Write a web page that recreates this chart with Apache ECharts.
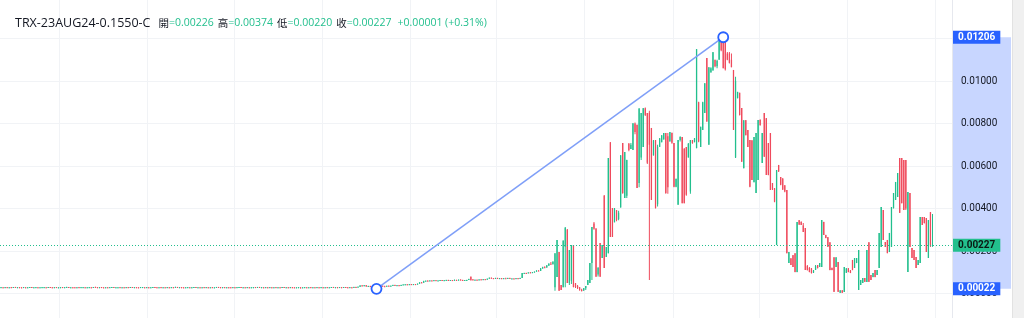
<!DOCTYPE html>
<html><head><meta charset="utf-8">
<script src="https://cdn.jsdelivr.net/npm/echarts/dist/echarts.min.js"></script>
<style>html,body{margin:0;padding:0;background:#fff;overflow:hidden;width:1024px;height:318px}
#c{position:absolute;left:0;top:-4px;width:1024px;height:340px}</style></head>
<body><div id="c"></div>
<script>
// ---------- data ----------
const symbolName = 'TRX-23AUG24-0.1550-C';
const ohlcLabels = ['開', '高', '低', '收'];
const changeText = '+0.00001 (+0.31%)';

// candles: [open, close, low, high]
const candlesA = [
[0.00029,0.00030,0.00028,0.00031],[0.00030,0.00029,0.00028,0.00030],[0.00029,0.00030,0.00029,0.00031],[0.00030,0.00028,0.00028,0.00031],[0.00028,0.00030,0.00028,0.00030],[0.00030,0.00029,0.00029,0.00031],[0.00029,0.00031,0.00029,0.00031],[0.00031,0.00029,0.00028,0.00031],[0.00029,0.00030,0.00028,0.00030],[0.00030,0.00029,0.00029,0.00030],
[0.00029,0.00028,0.00028,0.00030],[0.00028,0.00030,0.00028,0.00031],[0.00030,0.00029,0.00029,0.00030],[0.00029,0.00030,0.00029,0.00030],[0.00030,0.00031,0.00029,0.00031],[0.00031,0.00029,0.00029,0.00031],[0.00029,0.00029,0.00028,0.00030],[0.00029,0.00030,0.00029,0.00031],[0.00030,0.00028,0.00028,0.00030],[0.00028,0.00029,0.00028,0.00030],
[0.00029,0.00030,0.00028,0.00031],[0.00030,0.00030,0.00029,0.00031],[0.00030,0.00029,0.00028,0.00030],[0.00029,0.00031,0.00029,0.00031],[0.00031,0.00030,0.00029,0.00031],[0.00030,0.00029,0.00029,0.00030],[0.00029,0.00030,0.00028,0.00030],[0.00030,0.00028,0.00028,0.00031],[0.00028,0.00029,0.00028,0.00030],[0.00029,0.00030,0.00029,0.00030],
[0.00030,0.00029,0.00029,0.00031],[0.00029,0.00030,0.00028,0.00030],[0.00030,0.00031,0.00030,0.00032],[0.00031,0.00029,0.00029,0.00031],[0.00029,0.00030,0.00029,0.00030],[0.00030,0.00029,0.00028,0.00030],[0.00029,0.00028,0.00028,0.00030],[0.00028,0.00030,0.00028,0.00030],[0.00030,0.00029,0.00029,0.00031],[0.00029,0.00030,0.00029,0.00031],
[0.00030,0.00030,0.00029,0.00031],[0.00030,0.00028,0.00028,0.00030],[0.00028,0.00029,0.00027,0.00030],[0.00029,0.00030,0.00029,0.00031],[0.00030,0.00029,0.00029,0.00030],[0.00029,0.00031,0.00029,0.00031],[0.00031,0.00030,0.00029,0.00032],[0.00030,0.00029,0.00029,0.00030],[0.00029,0.00030,0.00028,0.00030],[0.00030,0.00029,0.00029,0.00031],
[0.00029,0.00028,0.00028,0.00030],[0.00028,0.00030,0.00028,0.00030],[0.00030,0.00029,0.00028,0.00030],[0.00029,0.00030,0.00029,0.00031],[0.00030,0.00031,0.00030,0.00031],[0.00031,0.00029,0.00029,0.00031],[0.00029,0.00029,0.00028,0.00030],[0.00029,0.00030,0.00029,0.00030],[0.00030,0.00028,0.00028,0.00031],[0.00028,0.00030,0.00028,0.00030],
[0.00030,0.00029,0.00029,0.00030],[0.00029,0.00030,0.00028,0.00031],[0.00030,0.00029,0.00029,0.00031],[0.00029,0.00031,0.00029,0.00031],[0.00031,0.00029,0.00028,0.00031],[0.00029,0.00030,0.00029,0.00030],[0.00030,0.00029,0.00028,0.00030],[0.00029,0.00028,0.00028,0.00030],[0.00028,0.00030,0.00028,0.00031],[0.00030,0.00030,0.00029,0.00031],
[0.00030,0.00029,0.00029,0.00030],[0.00029,0.00030,0.00029,0.00031],[0.00030,0.00028,0.00028,0.00030],[0.00028,0.00029,0.00028,0.00030],[0.00029,0.00031,0.00029,0.00031],[0.00031,0.00030,0.00029,0.00031],[0.00030,0.00029,0.00029,0.00030],[0.00029,0.00030,0.00028,0.00030],[0.00030,0.00029,0.00029,0.00031],[0.00029,0.00030,0.00029,0.00030],
[0.00030,0.00028,0.00028,0.00030],[0.00028,0.00030,0.00028,0.00031],[0.00030,0.00029,0.00029,0.00030],[0.00029,0.00030,0.00029,0.00031],[0.00030,0.00029,0.00028,0.00030],[0.00029,0.00031,0.00029,0.00032],[0.00031,0.00029,0.00029,0.00031],[0.00029,0.00030,0.00028,0.00030],[0.00030,0.00029,0.00029,0.00030],[0.00029,0.00028,0.00028,0.00030],
[0.00028,0.00029,0.00028,0.00030],[0.00029,0.00030,0.00029,0.00031],[0.00030,0.00029,0.00029,0.00030],[0.00029,0.00030,0.00028,0.00030],[0.00030,0.00031,0.00029,0.00031],[0.00031,0.00029,0.00029,0.00031],[0.00029,0.00030,0.00029,0.00030],[0.00030,0.00028,0.00028,0.00030],[0.00028,0.00030,0.00028,0.00030],[0.00030,0.00029,0.00029,0.00031],
[0.00029,0.00030,0.00029,0.00031],[0.00030,0.00029,0.00028,0.00030],[0.00029,0.00030,0.00029,0.00030],[0.00030,0.00028,0.00028,0.00031],[0.00028,0.00029,0.00028,0.00030],[0.00029,0.00031,0.00029,0.00031],[0.00031,0.00030,0.00029,0.00031],[0.00030,0.00029,0.00029,0.00030],[0.00029,0.00030,0.00028,0.00030],[0.00030,0.00029,0.00029,0.00031],
[0.00029,0.00030,0.00029,0.00030],[0.00030,0.00029,0.00028,0.00030],[0.00029,0.00028,0.00028,0.00030],[0.00028,0.00030,0.00028,0.00031],[0.00030,0.00029,0.00029,0.00030],[0.00029,0.00030,0.00029,0.00031],[0.00030,0.00031,0.00029,0.00031],[0.00031,0.00029,0.00029,0.00031],[0.00029,0.00030,0.00029,0.00030],[0.00030,0.00029,0.00028,0.00030],
[0.00029,0.00030,0.00029,0.00031],[0.00030,0.00028,0.00028,0.00030],[0.00028,0.00029,0.00028,0.00030],[0.00029,0.00030,0.00029,0.00030],[0.00030,0.00029,0.00029,0.00031],[0.00029,0.00031,0.00029,0.00031],[0.00031,0.00029,0.00028,0.00031],[0.00029,0.00030,0.00029,0.00030],[0.00030,0.00029,0.00029,0.00030],[0.00029,0.00030,0.00028,0.00031],
[0.00030,0.00029,0.00029,0.00030],[0.00029,0.00030,0.00029,0.00031],[0.00030,0.00028,0.00028,0.00030],[0.00028,0.00030,0.00028,0.00030],[0.00030,0.00029,0.00029,0.00031],[0.00029,0.00030,0.00029,0.00030],[0.00030,0.00029,0.00028,0.00030],[0.00029,0.00031,0.00029,0.00031],[0.00031,0.00029,0.00029,0.00031],[0.00029,0.00030,0.00029,0.00030],
[0.00030,0.00029,0.00028,0.00030],[0.00029,0.00030,0.00029,0.00031],[0.00030,0.00029,0.00029,0.00030],[0.00029,0.00028,0.00028,0.00030],[0.00028,0.00029,0.00028,0.00030],[0.00029,0.00030,0.00029,0.00030],[0.00029,0.00025,0.00023,0.00030],[0.00025,0.00029,0.00025,0.00030],[0.00029,0.00030,0.00029,0.00031],[0.00030,0.00029,0.00029,0.00030],
[0.00029,0.00030,0.00028,0.00030],[0.00030,0.00029,0.00029,0.00031],[0.00029,0.00030,0.00029,0.00030],[0.00030,0.00028,0.00028,0.00030],[0.00028,0.00030,0.00028,0.00031],[0.00030,0.00029,0.00029,0.00030],[0.00029,0.00030,0.00029,0.00031],[0.00030,0.00029,0.00028,0.00030],[0.00029,0.00030,0.00029,0.00030],[0.00030,0.00029,0.00029,0.00031],
[0.00029,0.00030,0.00029,0.00030],[0.00030,0.00031,0.00029,0.00031],[0.00031,0.00029,0.00029,0.00031],[0.00029,0.00030,0.00029,0.00030],[0.00030,0.00029,0.00028,0.00030],[0.00029,0.00030,0.00029,0.00031],[0.00030,0.00029,0.00029,0.00030],[0.00029,0.00031,0.00029,0.00031],[0.00031,0.00030,0.00029,0.00031],[0.00030,0.00029,0.00029,0.00030],
[0.00029,0.00030,0.00029,0.00031],[0.00030,0.00029,0.00028,0.00030],[0.00029,0.00031,0.00029,0.00032],[0.00031,0.00030,0.00030,0.00032],[0.00030,0.00032,0.00030,0.00033],[0.00032,0.00038,0.00031,0.00039],[0.00038,0.00035,0.00034,0.00040],[0.00035,0.00039,0.00034,0.00040],[0.00039,0.00033,0.00032,0.00040],[0.00033,0.00035,0.00032,0.00036],
[0.00035,0.00031,0.00030,0.00036],[0.00031,0.00029,0.00028,0.00032],[0.00029,0.00028,0.00027,0.00030],[0.00028,0.00030,0.00022,0.00031]
];
const candlesB = [
[0.00030,0.00034,0.00029,0.00035],[0.00034,0.00036,0.00033,0.00037],[0.00037,0.00034,0.00033,0.00038],[0.00034,0.00033,0.00032,0.00036],[0.00033,0.00036,0.00032,0.00037],[0.00036,0.00035,0.00034,0.00038],[0.00035,0.00037,0.00034,0.00038],[0.00037,0.00040,0.00036,0.00041],[0.00040,0.00038,0.00037,0.00041],[0.00038,0.00039,0.00037,0.00040],[0.00039,0.00038,0.00037,0.00040],[0.00038,0.00040,0.00038,0.00041],[0.00040,0.00042,0.00039,0.00043],
[0.00042,0.00043,0.00041,0.00044],[0.00043,0.00042,0.00041,0.00044],[0.00042,0.00044,0.00041,0.00045],[0.00044,0.00043,0.00042,0.00045],[0.00043,0.00044,0.00042,0.00045],[0.00044,0.00043,0.00042,0.00045],[0.00043,0.00046,0.00043,0.00047],
[0.00046,0.00052,0.00046,0.00053],[0.00052,0.00051,0.00050,0.00054],[0.00051,0.00058,0.00051,0.00060],
[0.00058,0.00060,0.00057,0.00061],[0.00060,0.00059,0.00058,0.00062],[0.00059,0.00061,0.00058,0.00062],[0.00061,0.00060,0.00059,0.00062],[0.00060,0.00062,0.00059,0.00063],[0.00062,0.00060,0.00059,0.00063],[0.00060,0.00061,0.00059,0.00062],[0.00061,0.00063,0.00060,0.00064],[0.00063,0.00061,0.00060,0.00064],[0.00061,0.00062,0.00060,0.00063],[0.00062,0.00064,0.00061,0.00065],[0.00064,0.00062,0.00061,0.00065],[0.00062,0.00063,0.00061,0.00064],[0.00063,0.00062,0.00061,0.00064],[0.00062,0.00064,0.00062,0.00066],[0.00064,0.00063,0.00062,0.00065],[0.00063,0.00065,0.00062,0.00066],[0.00065,0.00064,0.00063,0.00067],[0.00064,0.00062,0.00061,0.00065],[0.00062,0.00063,0.00061,0.00064],[0.00063,0.00064,0.00062,0.00065],
[0.00064,0.00068,0.00063,0.00070],[0.00079,0.00062,0.00061,0.00080],[0.00066,0.00063,0.00062,0.00068],[0.00063,0.00065,0.00062,0.00066],
[0.00065,0.00064,0.00062,0.00066],[0.00064,0.00066,0.00063,0.00067],[0.00066,0.00065,0.00064,0.00068],[0.00065,0.00067,0.00064,0.00068],[0.00067,0.00066,0.00065,0.00068],[0.00066,0.00070,0.00065,0.00071],
[0.00070,0.00074,0.00069,0.00075],[0.00074,0.00072,0.00071,0.00075],[0.00072,0.00071,0.00070,0.00073],[0.00071,0.00073,0.00070,0.00074],[0.00073,0.00071,0.00070,0.00074],[0.00071,0.00072,0.00070,0.00073],[0.00072,0.00070,0.00069,0.00073],[0.00070,0.00072,0.00069,0.00073],[0.00072,0.00071,0.00070,0.00074],[0.00071,0.00073,0.00070,0.00074],[0.00073,0.00070,0.00069,0.00074],[0.00070,0.00071,0.00069,0.00072],[0.00071,0.00070,0.00069,0.00072],[0.00070,0.00072,0.00069,0.00073],[0.00072,0.00071,0.00070,0.00073],[0.00071,0.00073,0.00070,0.00074],
[0.00073,0.00096,0.00073,0.00097],
[0.00096,0.00097,0.00095,0.00098],[0.00097,0.00096,0.00095,0.00098],[0.00096,0.00099,0.00095,0.00100],[0.00099,0.00098,0.00097,0.00101],[0.00098,0.00100,0.00097,0.00101],[0.00100,0.00103,0.00099,0.00104],
[0.00103,0.00108,0.00102,0.00109],[0.00108,0.00106,0.00105,0.00110],[0.00106,0.00118,0.00106,0.00120],[0.00118,0.00124,0.00116,0.00126],[0.00124,0.00122,0.00120,0.00128],[0.00122,0.00132,0.00121,0.00134],[0.00132,0.00140,0.00130,0.00142],[0.00140,0.00138,0.00135,0.00148],[0.00138,0.00150,0.00136,0.00152]
];
const candlesC = [
[0.00030,0.00190,0.00013,0.00190],[0.00078,0.00252,0.00078,0.00252],[0.00195,0.00013,0.00013,0.00195],[0.00040,0.00016,0.00016,0.00040],[0.00030,0.00250,0.00030,0.00250],[0.00220,0.00310,0.00030,0.00313],[0.00300,0.00050,0.00050,0.00303],[0.00050,0.00205,0.00040,0.00205],[0.00060,0.00228,0.00045,0.00228],[0.00228,0.00030,0.00030,0.00228],
[0.00048,0.00030,0.00026,0.00050],[0.00035,0.00025,0.00021,0.00040],[0.00030,0.00018,0.00013,0.00030],[0.00018,0.00012,0.00010,0.00022],[0.00015,0.00025,0.00012,0.00026],[0.00025,0.00035,0.00016,0.00035],[0.00040,0.00064,0.00040,0.00064],[0.00050,0.00143,0.00050,0.00143],[0.00143,0.00313,0.00064,0.00313],[0.00330,0.00305,0.00300,0.00336],
[0.00305,0.00080,0.00078,0.00308],[0.00090,0.00120,0.00080,0.00125],[0.00238,0.00080,0.00078,0.00238],[0.00167,0.00228,0.00167,0.00228],[0.00460,0.00120,0.00120,0.00463],[0.00172,0.00219,0.00172,0.00219],[0.00190,0.00638,0.00190,0.00638],[0.00712,0.00266,0.00266,0.00712],[0.00402,0.00266,0.00266,0.00402],[0.00335,0.00400,0.00335,0.00402],
[0.00392,0.00346,0.00340,0.00393],[0.00350,0.00380,0.00345,0.00390],[0.00405,0.00650,0.00405,0.00652],[0.00708,0.00473,0.00470,0.00708],[0.00450,0.00666,0.00450,0.00666],[0.00460,0.00628,0.00450,0.00630],[0.00705,0.00675,0.00670,0.00708],[0.00680,0.00700,0.00680,0.00708],[0.00675,0.00800,0.00675,0.00802],[0.00800,0.00760,0.00750,0.00805],
[0.00794,0.00497,0.00497,0.00794],[0.00520,0.00870,0.00500,0.00873],[0.00640,0.00850,0.00628,0.00850],[0.00690,0.00872,0.00690,0.00873],[0.00872,0.00840,0.00835,0.00875],[0.00850,0.00615,0.00610,0.00850],[0.00850,0.00700,0.00064,0.00860],[0.00779,0.00440,0.00440,0.00779],[0.00650,0.00720,0.00650,0.00722],[0.00722,0.00402,0.00400,0.00722],
[0.00420,0.00690,0.00410,0.00700],[0.00690,0.00730,0.00690,0.00732],[0.00712,0.00745,0.00712,0.00745],[0.00725,0.00755,0.00725,0.00755],[0.00755,0.00473,0.00470,0.00755],[0.00740,0.00500,0.00470,0.00755],[0.00715,0.00760,0.00715,0.00760],[0.00755,0.00710,0.00705,0.00758],[0.00708,0.00502,0.00500,0.00708],[0.00502,0.00540,0.00500,0.00540],
[0.00418,0.00722,0.00418,0.00722],[0.00722,0.00736,0.00715,0.00740],[0.00736,0.00425,0.00425,0.00736],[0.00680,0.00425,0.00425,0.00685],[0.00690,0.00465,0.00460,0.00690],[0.00640,0.00705,0.00640,0.00708],[0.00480,0.00722,0.00470,0.00722],[0.00722,0.00708,0.00705,0.00722],[0.00712,0.00730,0.00712,0.00732],[0.00684,0.01150,0.00684,0.01150],
[0.00900,0.00715,0.00712,0.00902],[0.00690,0.00785,0.00690,0.00785],[0.00770,0.00900,0.00770,0.00902],[0.00850,0.00990,0.00850,0.00990],[0.01108,0.00810,0.00808,0.01108],[0.00700,0.01065,0.00700,0.01065],[0.01040,0.01060,0.01040,0.01065],[0.01050,0.01135,0.01050,0.01137],[0.01100,0.01070,0.01065,0.01100],[0.01070,0.01095,0.01060,0.01100],
[0.01100,0.01190,0.01100,0.01193],[0.01205,0.01145,0.01140,0.01205],[0.01180,0.01060,0.01060,0.01206]
];
const candlesD = [
[0.01183,0.01055,0.01050,0.01185],[0.01130,0.01100,0.01098,0.01136],[0.01130,0.01085,0.01082,0.01136],[0.01100,0.01065,0.01065,0.01130],[0.01052,0.00770,0.00769,0.01052],[0.00640,0.01000,0.00638,0.01020],[0.00920,0.00948,0.00918,0.00950],[0.00945,0.00840,0.00838,0.00945],[0.00873,0.00620,0.00620,0.00873],[0.00590,0.00815,0.00590,0.00815],
[0.00815,0.00745,0.00745,0.00816],[0.00769,0.00690,0.00690,0.00769],[0.00722,0.00502,0.00500,0.00722],[0.00720,0.00534,0.00534,0.00722],[0.00524,0.00736,0.00524,0.00736],[0.00473,0.00755,0.00473,0.00755],[0.00534,0.00816,0.00534,0.00816],[0.00816,0.00793,0.00790,0.00820],[0.00614,0.00755,0.00614,0.00755],[0.00850,0.00643,0.00643,0.00850],
[0.00825,0.00558,0.00558,0.00826],[0.00708,0.00558,0.00556,0.00708],[0.00755,0.00487,0.00487,0.00755],[0.00520,0.00490,0.00487,0.00520],[0.00495,0.00432,0.00430,0.00497],[0.00228,0.00581,0.00228,0.00581],[0.00605,0.00575,0.00572,0.00605],[0.00548,0.00512,0.00510,0.00548],[0.00540,0.00490,0.00487,0.00543],[0.00510,0.00480,0.00477,0.00510],
[0.00487,0.00190,0.00190,0.00487],[0.00143,0.00195,0.00143,0.00195],[0.00165,0.00134,0.00134,0.00167],[0.00180,0.00125,0.00125,0.00181],[0.00190,0.00101,0.00100,0.00190],[0.00101,0.00336,0.00100,0.00336],[0.00345,0.00325,0.00322,0.00346],[0.00336,0.00322,0.00322,0.00340],[0.00320,0.00290,0.00289,0.00332],[0.00308,0.00111,0.00111,0.00308],
[0.00130,0.00111,0.00108,0.00134],[0.00120,0.00101,0.00100,0.00125],[0.00118,0.00096,0.00094,0.00120],[0.00098,0.00108,0.00096,0.00111],[0.00111,0.00130,0.00111,0.00134],[0.00134,0.00120,0.00118,0.00134],[0.00125,0.00143,0.00125,0.00143],[0.00125,0.00346,0.00125,0.00346],[0.00336,0.00275,0.00275,0.00338],[0.00275,0.00261,0.00260,0.00276],
[0.00265,0.00220,0.00219,0.00266],[0.00240,0.00111,0.00110,0.00242],[0.00120,0.00111,0.00110,0.00122],[0.00170,0.00008,0.00007,0.00172],[0.00125,0.00170,0.00125,0.00172],[0.00148,0.00008,0.00007,0.00148],[0.00004,0.00014,0.00002,0.00016],[0.00014,0.00004,0.00002,0.00016],[0.00007,0.00125,0.00007,0.00125],[0.00098,0.00118,0.00096,0.00120],
[0.00118,0.00101,0.00100,0.00120],[0.00108,0.00096,0.00096,0.00111],[0.00158,0.00111,0.00110,0.00158],[0.00120,0.00167,0.00120,0.00167],[0.00143,0.00167,0.00143,0.00167],[0.00016,0.00205,0.00016,0.00205],[0.00040,0.00064,0.00040,0.00064],[0.00050,0.00073,0.00050,0.00073],[0.00073,0.00055,0.00054,0.00073],[0.00054,0.00205,0.00054,0.00205],
[0.00240,0.00055,0.00054,0.00242],[0.00087,0.00064,0.00064,0.00087],[0.00078,0.00096,0.00077,0.00096],[0.00111,0.00078,0.00077,0.00111],[0.00087,0.00111,0.00087,0.00111],[0.00120,0.00285,0.00120,0.00285],[0.00219,0.00407,0.00219,0.00407],[0.00393,0.00252,0.00252,0.00393],[0.00242,0.00219,0.00219,0.00242],[0.00252,0.00190,0.00190,0.00252],
[0.00195,0.00285,0.00195,0.00285],[0.00219,0.00407,0.00219,0.00407],[0.00402,0.00473,0.00400,0.00473],[0.00440,0.00525,0.00440,0.00525],[0.00454,0.00567,0.00454,0.00567],[0.00638,0.00380,0.00379,0.00638],[0.00638,0.00425,0.00425,0.00638],[0.00628,0.00393,0.00393,0.00628],[0.00628,0.00400,0.00393,0.00628],[0.00101,0.00478,0.00101,0.00478],
[0.00473,0.00219,0.00219,0.00473],[0.00214,0.00167,0.00167,0.00214],[0.00205,0.00158,0.00158,0.00205],[0.00172,0.00120,0.00120,0.00172],[0.00134,0.00158,0.00134,0.00158],[0.00143,0.00360,0.00143,0.00360],[0.00360,0.00322,0.00322,0.00360],[0.00360,0.00332,0.00330,0.00360],[0.00355,0.00195,0.00195,0.00355],[0.00167,0.00346,0.00167,0.00346],
[0.00383,0.00226,0.00219,0.00383],[0.00226,0.00227,0.00220,0.00374]
];
// trend line anchors: [candle index, price]
const trendStart = [183, 0.00022];
const trendEnd = [352, 0.01206];

// ---------- build ----------
const UP = '#22bf8d', DOWN = '#ef4a5c', BLUE = '#2962ff';
const candles = [].concat(candlesA, candlesB, candlesC, candlesD);
const L = candles.length;
const PLOT_W = 952, LAST_X = 933;
const total = Math.round((L - 0.5) * PLOT_W / LAST_X);
const categories = [];
for (let i = 0; i < total; i++) categories.push(String(i));
const last = candles[L - 1];
const fmt = v => v.toFixed(5);

// custom-series rows: [index, open, close, low, high]
const rows = candles.map((d, i) => [i, d[0], d[1], d[2], d[3]]);

function renderCandle(params, api) {
  const i = api.value(0);
  const o = api.value(1), c = api.value(2), lo = api.value(3), hi = api.value(4);
  const pO = api.coord([i, o]), pC = api.coord([i, c]);
  const pL = api.coord([i, lo]), pH = api.coord([i, hi]);
  const band = api.size([1, 0])[0];
  const bw = band * 0.62, ww = 1;
  const color = c >= o ? UP : DOWN;
  const top = Math.min(pO[1], pC[1]);
  const bh = Math.max(Math.abs(pO[1] - pC[1]), 1);
  return {
    type: 'group',
    children: [
      {type: 'rect', shape: {x: pO[0] - ww / 2, y: pH[1], width: ww, height: Math.max(pL[1] - pH[1], 1)}, style: {fill: color}},
      {type: 'rect', shape: {x: pO[0] - bw / 2, y: top, width: bw, height: bh}, style: {fill: color}}
    ]
  };
}

// faint vertical grid every ~42.6 candles
const vSet = new Set();
for (let k = 0; k < 12; k++) vSet.add(Math.round(29.2 + 42.64 * k));

const headerText =
  '{n|' + symbolName + '}{s|}' +
  '{k|' + ohlcLabels[0] + '}{v|=' + fmt(last[0]) + '}{s2|}' +
  '{k|' + ohlcLabels[1] + '}{v|=' + fmt(last[3]) + '}{s2|}' +
  '{k|' + ohlcLabels[2] + '}{v|=' + fmt(last[2]) + '}{s2|}' +
  '{k|' + ohlcLabels[3] + '}{v|=' + fmt(last[1]) + '}{s3|}' +
  '{v|' + changeText + '}';

const chart = echarts.init(document.getElementById('c'), null, {renderer: 'canvas'});
const labelBox = (bg, fg) => ({
  show: true, position: 'end', distance: 1,
  formatter: p => fmt(p.value),
  backgroundColor: bg, color: fg, padding: [2, 5, 1, 5],
  fontSize: 10, fontWeight: 'bold', fontFamily: 'Roboto'
});
const HIDDEN = 'rgba(0,0,0,0)';
chart.setOption({
  animation: false,
  backgroundColor: '#ffffff',
  title: {
    left: 10, top: 13,
    text: headerText,
    textStyle: {
      fontWeight: 'normal',
      rich: {
        n: {fontSize: 12.5, color: '#131722', fontFamily: 'Open Sans', fontWeight: 'normal'},
        s: {width: 8},
        s2: {width: 4},
        s3: {width: 6},
        k: {fontSize: 10.5, color: '#131722', fontFamily: 'Noto Sans CJK TC', fontWeight: 'normal'},
        v: {fontSize: 10.5, color: UP, fontFamily: 'Open Sans', fontWeight: 'normal'}
      }
    }
  },
  grid: {left: 0, right: 1024 - PLOT_W, top: 0, bottom: 0},
  xAxis: {
    type: 'category', data: categories, boundaryGap: true,
    axisLine: {show: false}, axisTick: {show: false}, axisLabel: {show: false},
    splitLine: {show: true, interval: (i) => vSet.has(i), lineStyle: {color: '#f1f3f6', width: 1}}
  },
  yAxis: {
    type: 'value', position: 'right', min: -0.002, max: 0.014, interval: 0.002,
    axisLine: {show: true, lineStyle: {color: '#e6e8ee'}},
    axisTick: {show: false},
    axisLabel: {
      margin: 9, color: '#131722', fontSize: 10, fontFamily: 'Roboto',
      formatter: v => (v < -1e-9 || v > 0.0130) ? '' : fmt(v)
    },
    splitLine: {show: true, lineStyle: {color: '#f1f3f6', width: 1}}
  },
  series: [
    {
      type: 'custom', data: rows, renderItem: renderCandle, clip: true,
      encode: {x: 0, y: [1, 2, 3, 4]}, silent: true
    },
    {
      type: 'line', z: 5,
      data: [[categories[trendStart[0]], trendStart[1]], [categories[trendEnd[0]], trendEnd[1]]],
      lineStyle: {color: '#7f9ff8', width: 1.5},
      symbol: 'circle', symbolSize: 10, showSymbol: true, showAllSymbol: true,
      itemStyle: {color: '#ffffff', borderColor: BLUE, borderWidth: 1.8},
      emphasis: {disabled: true},
      markLine: {
        silent: true, symbol: 'none', animation: false, precision: 5,
        data: [
          {yAxis: last[1], lineStyle: {color: UP, type: [1, 2], width: 1}, label: labelBox(UP, '#0b1a14')},
          {yAxis: trendEnd[1], lineStyle: {color: HIDDEN, width: 1}, label: labelBox(BLUE, '#ffffff')},
          {yAxis: trendStart[1], lineStyle: {color: HIDDEN, width: 1}, label: labelBox(BLUE, '#ffffff')}
        ]
      }
    }
  ]
});

const yTop = chart.convertToPixel({yAxisIndex: 0}, trendEnd[1]);
const yBot = chart.convertToPixel({yAxisIndex: 0}, trendStart[1]);
chart.setOption({
  graphic: [
    {type: 'rect', z: -1, silent: true, shape: {x: PLOT_W + 1, y: yTop, width: 58, height: yBot - yTop}, style: {fill: 'rgba(41,98,255,0.26)'}},
    {type: 'rect', z: -1, silent: true, shape: {x: 1012, y: 0, width: 12, height: 340}, style: {fill: '#f0f0f0'}},
    {type: 'rect', z: -1, silent: true, shape: {x: 1012, y: 0, width: 1, height: 340}, style: {fill: '#e2e2e2'}}
  ]
});
</script>
</body></html>
